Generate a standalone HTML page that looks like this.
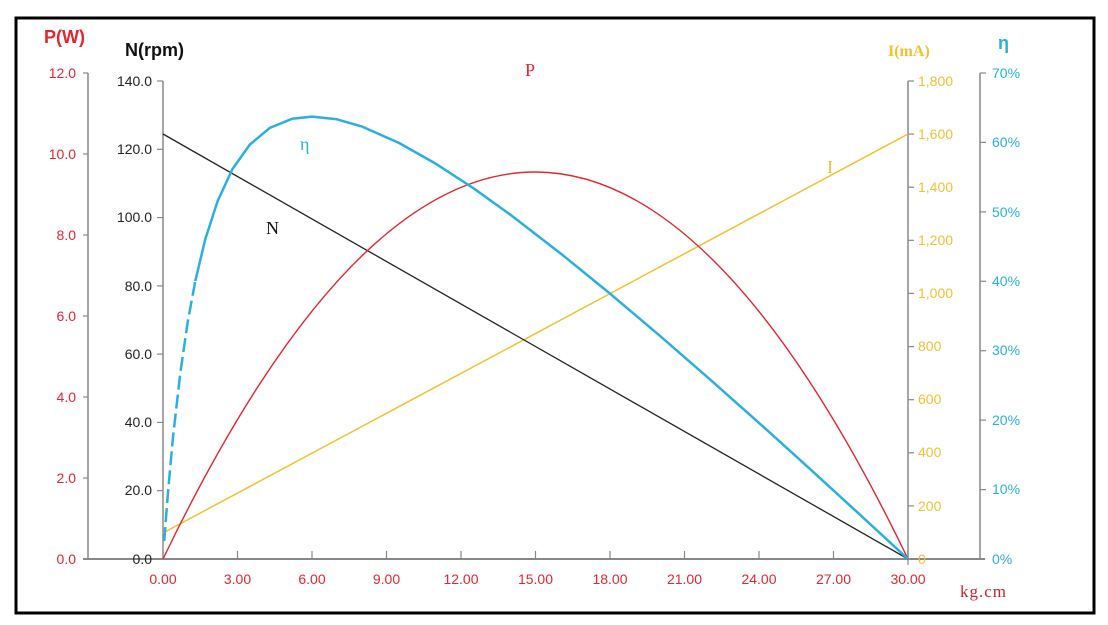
<!DOCTYPE html>
<html><head><meta charset="utf-8"><style>
html,body{margin:0;padding:0;background:#fff;width:1108px;height:625px;overflow:hidden}
svg{display:block}
</style></head><body>
<svg width="1108" height="625" xmlns="http://www.w3.org/2000/svg" font-family="Liberation Sans, sans-serif">
<rect x="16" y="18" width="1078" height="595" fill="#fff" stroke="#000" stroke-width="3"/>
<!-- axes -->
<g stroke="#888" stroke-width="1.5" fill="none">
<line x1="88" y1="73" x2="88" y2="559"/>
<line x1="163" y1="81" x2="163" y2="559"/>
<line x1="908" y1="81" x2="908" y2="559"/>
<line x1="980" y1="73" x2="980" y2="559"/>
<line x1="83" y1="559" x2="985" y2="559" stroke-width="2"/>
</g>
<g stroke="#888" stroke-width="1.2">
<!-- P ticks -->
<line x1="83" y1="73" x2="88" y2="73"/><line x1="83" y1="154" x2="88" y2="154"/><line x1="83" y1="235" x2="88" y2="235"/><line x1="83" y1="316" x2="88" y2="316"/><line x1="83" y1="397" x2="88" y2="397"/><line x1="83" y1="478" x2="88" y2="478"/>
<!-- N ticks -->
<line x1="157" y1="81" x2="163" y2="81"/><line x1="157" y1="149.3" x2="163" y2="149.3"/><line x1="157" y1="217.6" x2="163" y2="217.6"/><line x1="157" y1="285.9" x2="163" y2="285.9"/><line x1="157" y1="354.1" x2="163" y2="354.1"/><line x1="157" y1="422.4" x2="163" y2="422.4"/><line x1="157" y1="490.7" x2="163" y2="490.7"/><line x1="157" y1="559" x2="163" y2="559"/>
<!-- I ticks -->
<line x1="908" y1="81" x2="914" y2="81"/><line x1="908" y1="134.1" x2="914" y2="134.1"/><line x1="908" y1="187.2" x2="914" y2="187.2"/><line x1="908" y1="240.3" x2="914" y2="240.3"/><line x1="908" y1="293.4" x2="914" y2="293.4"/><line x1="908" y1="346.6" x2="914" y2="346.6"/><line x1="908" y1="399.7" x2="914" y2="399.7"/><line x1="908" y1="452.8" x2="914" y2="452.8"/><line x1="908" y1="505.9" x2="914" y2="505.9"/>
<!-- eta ticks -->
<line x1="980" y1="73" x2="986" y2="73"/><line x1="980" y1="142.4" x2="986" y2="142.4"/><line x1="980" y1="211.9" x2="986" y2="211.9"/><line x1="980" y1="281.3" x2="986" y2="281.3"/><line x1="980" y1="350.7" x2="986" y2="350.7"/><line x1="980" y1="420.1" x2="986" y2="420.1"/><line x1="980" y1="489.6" x2="986" y2="489.6"/>
<!-- x ticks -->
<line x1="237.5" y1="551" x2="237.5" y2="559"/><line x1="312" y1="551" x2="312" y2="559"/><line x1="386.5" y1="551" x2="386.5" y2="559"/><line x1="461" y1="551" x2="461" y2="559"/><line x1="535.5" y1="551" x2="535.5" y2="559"/><line x1="610" y1="551" x2="610" y2="559"/><line x1="684.5" y1="551" x2="684.5" y2="559"/><line x1="759" y1="551" x2="759" y2="559"/><line x1="833.5" y1="551" x2="833.5" y2="559"/><line x1="908" y1="551" x2="908" y2="565"/>
</g>
<!-- P labels -->
<g fill="#e52530" font-size="14" text-anchor="end">
<text x="76" y="78">12.0</text><text x="76" y="159">10.0</text><text x="76" y="240">8.0</text><text x="76" y="321">6.0</text><text x="76" y="402">4.0</text><text x="76" y="483">2.0</text><text x="76" y="564">0.0</text>
</g>
<g fill="#222" font-size="14" text-anchor="end">
<text x="152" y="86">140.0</text><text x="152" y="154">120.0</text><text x="152" y="222">100.0</text><text x="152" y="291">80.0</text><text x="152" y="359">60.0</text><text x="152" y="427">40.0</text><text x="152" y="495">20.0</text><text x="152" y="564">0.0</text>
</g>
<g fill="#f2c12e" font-size="14">
<text x="918" y="86">1,800</text><text x="918" y="139">1,600</text><text x="918" y="192">1,400</text><text x="918" y="245">1,200</text><text x="918" y="298">1,000</text><text x="918" y="351">800</text><text x="918" y="404">600</text><text x="918" y="457">400</text><text x="918" y="511">200</text><text x="918" y="564">0</text>
</g>
<g fill="#2ab0e0" font-size="14">
<text x="992" y="78">70%</text><text x="992" y="147">60%</text><text x="992" y="217">50%</text><text x="992" y="286">40%</text><text x="992" y="355">30%</text><text x="992" y="425">20%</text><text x="992" y="494">10%</text><text x="992" y="564">0%</text>
</g>
<g fill="#e52530" font-size="14" text-anchor="middle">
<text x="163" y="584">0.00</text><text x="237.5" y="584">3.00</text><text x="312" y="584">6.00</text><text x="386.5" y="584">9.00</text><text x="461" y="584">12.00</text><text x="535.5" y="584">15.00</text><text x="610" y="584">18.00</text><text x="684.5" y="584">21.00</text><text x="759" y="584">24.00</text><text x="833.5" y="584">27.00</text><text x="908" y="584">30.00</text>
</g>
<text x="960" y="597" fill="#c8262e" font-size="17" font-family="Liberation Serif, serif" letter-spacing="1">kg.cm</text>
<!-- titles -->
<text x="44" y="43" fill="#e52530" font-size="18" font-weight="bold">P(W)</text>
<text x="125" y="56" fill="#111" font-size="18" font-weight="bold">N(rpm)</text>
<text x="888" y="56" fill="#f2c12e" font-size="16" font-weight="bold" font-family="Liberation Serif, serif">I(mA)</text>
<text x="998" y="49" fill="#2ab0e0" font-size="18" font-weight="bold">η</text>
<!-- series -->
<line x1="163" y1="533" x2="908" y2="134" stroke="#f2c12e" stroke-width="1.5"/>
<line x1="163" y1="134" x2="908" y2="559" stroke="#222" stroke-width="1.3"/>
<path d="M163,559 Q535,-215 908,559" fill="none" stroke="#e52530" stroke-width="1.4"/>
<polyline fill="none" stroke="#2ab0e0" stroke-width="2.5" stroke-dasharray="14 5" points="164.2,541 168,492.4 172.9,437.8 180.4,372.3 187.8,321.4 195.3,281.1"/>
<polyline fill="none" stroke="#2ab0e0" stroke-width="2.5" stroke-linejoin="round" points="195.3,281.1 205.2,239.5 217.6,201.1 232.5,169 249.9,144.5 269.8,127.9 292.1,118.8 312,116.6 336.8,119.3 361.6,126.4 398.9,142.9 436.1,163.9 473.4,188.2 510.6,214.9 560.3,253.2 610,293.6 659.6,335.6 709.3,378.8 759,422.9 808.6,467.7 858.2,513.1 908,559"/>
<!-- series labels -->
<g font-family="Liberation Serif, serif" font-size="18">
<text x="525" y="76" fill="#e52530">P</text>
<text x="300" y="150" fill="#2ab0e0">η</text>
<text x="266" y="234" fill="#111">N</text>
<text x="827" y="173" fill="#f2c12e">I</text>
</g>
</svg>
</body></html>
